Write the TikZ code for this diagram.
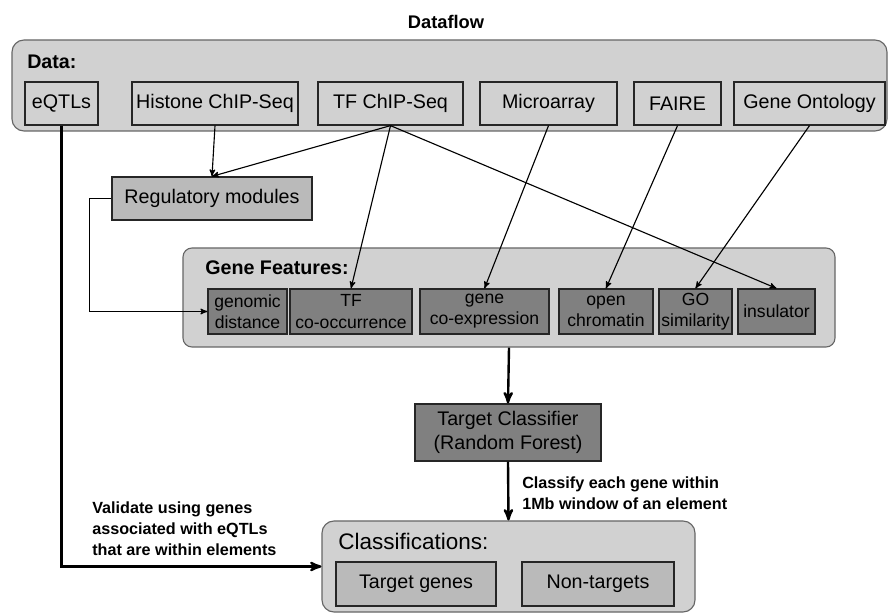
\documentclass[tikz,border=0pt]{standalone}
\usepackage{fontspec}
\setmainfont{Liberation Sans}
\usetikzlibrary{arrows}
\newlength\px
\setlength\px{0.025cm}

\begin{document}
\begin{tikzpicture}[x=0.025cm,y=-0.025cm,>=stealth',
  outer box/.style={draw=black!60,fill=black!18,rounded corners=12\px,line width=0.8pt,inner sep=0pt},
  data node/.style={draw=black!85,fill=black!18,line width=0.9pt,minimum height=43\px,inner sep=0pt,font=\fontsize{14}{16}\selectfont},
  feature node/.style={draw=black!85,fill=black!50,line width=0.9pt,minimum height=45\px,inner sep=0pt,align=center,font=\fontsize{12.5}{15}\selectfont},
  mid node/.style={draw=black!85,fill=black!27,line width=0.9pt,inner sep=0pt,font=\fontsize{14}{16}\selectfont},
  head text/.style={anchor=west,inner sep=0pt,font=\bfseries\fontsize{14}{16}\selectfont},
  note text/.style={anchor=west,inner sep=0pt,align=left,font=\bfseries\fontsize{11.5}{15}\selectfont},
  thin arrow/.style={->,line width=0.8pt},
  thick arrow/.style={->,line width=1.7pt}]

 \useasboundingbox (0,0) rectangle (888,615);

 \node[font=\bfseries\fontsize{13}{15}\selectfont] (title) at (446,22) {Dataflow};

 % data sources
 \node[outer box,minimum width=875\px,minimum height=91\px] (data) at (449.5,85.5) {};
 \node[head text] (datalbl) at (27,62) {Data:};
 \node[data node,minimum width=73\px] (eqtl) at (61.5,103.5) {eQTLs};
 \node[data node,minimum width=166\px] (hist) at (215,103.5) {Histone ChIP-Seq};
 \node[data node,minimum width=145\px] (tf) at (390.5,103.5) {TF ChIP-Seq};
 \node[data node,minimum width=137\px] (micro) at (548.5,103.5) {Microarray};
 \node[data node,minimum width=87\px] (faire) at (677.5,103.5) {FAIRE};
 \node[data node,minimum width=151\px] (onto) at (809.5,103.5) {Gene Ontology};

 \node[mid node,minimum width=200\px,minimum height=43\px] (reg) at (212,198.5) {Regulatory modules};

 % features
 \node[outer box,rounded corners=9\px,minimum width=652\px,minimum height=99\px] (feat) at (509,297.5) {};
 \node[head text] (featlbl) at (205,268) {Gene Features:};
 \node[feature node,minimum width=79\px] (gdist) at (247.5,311.5) {genomic\\distance};
 \node[feature node,minimum width=122\px] (tfco) at (351,311.5) {TF\\co-occurrence};
 \node[feature node,minimum width=129\px] (geneco) at (484.5,311.5) {gene\\co-expression};
 \node[feature node,minimum width=94\px] (openchr) at (606,311.5) {open\\chromatin};
 \node[feature node,minimum width=73\px] (gosim) at (695.5,311.5) {GO\\similarity};
 \node[feature node,minimum width=77\px] (insul) at (776.5,311.5) {insulator};

 \node[feature node,align=center,minimum width=186\px,minimum height=57\px,font=\fontsize{14}{16.5}\selectfont] (tc) at (508,432.5) {Target Classifier\\(Random Forest)};

 % results
 \node[outer box,minimum width=373\px,minimum height=91\px] (cls) at (508.5,566.5) {};
 \node[anchor=west,inner sep=0pt,font=\fontsize{16}{18}\selectfont] (clslbl) at (338,541) {Classifications:};
 \node[mid node,minimum width=160\px,minimum height=44\px] (tgenes) at (416,584) {Target genes};
 \node[mid node,minimum width=152\px,minimum height=44\px] (ntgt) at (598,584) {Non-targets};

 \node[note text] (clsnote) at (522,493.5) {Classify each gene within\\1Mb window of an element};
 \node[note text] (valnote) at (92,528.5) {Validate using genes\\associated with eQTLs\\that are within elements};

 \path[thin arrow]
    (hist.south)	edge (reg.north)
    (tf.south)	edge (reg.north)
    (tf.south)	edge (tfco.north)
    (tf.south)	edge (insul.north)
    (micro.south)	edge (geneco.north)
    (faire.south)	edge (openchr.north)
    (onto.south)	edge (gosim.north);
 \draw[thin arrow] (reg.west) -- ++(-22,0) |- (gdist.west);

 \draw[thick arrow] (eqtl.south) |- (cls.west);
 \draw[thick arrow] (feat.south) -- (tc.north);
 \draw[thick arrow] (tc.south) -- (cls.north);

\end{tikzpicture}
\end{document}
